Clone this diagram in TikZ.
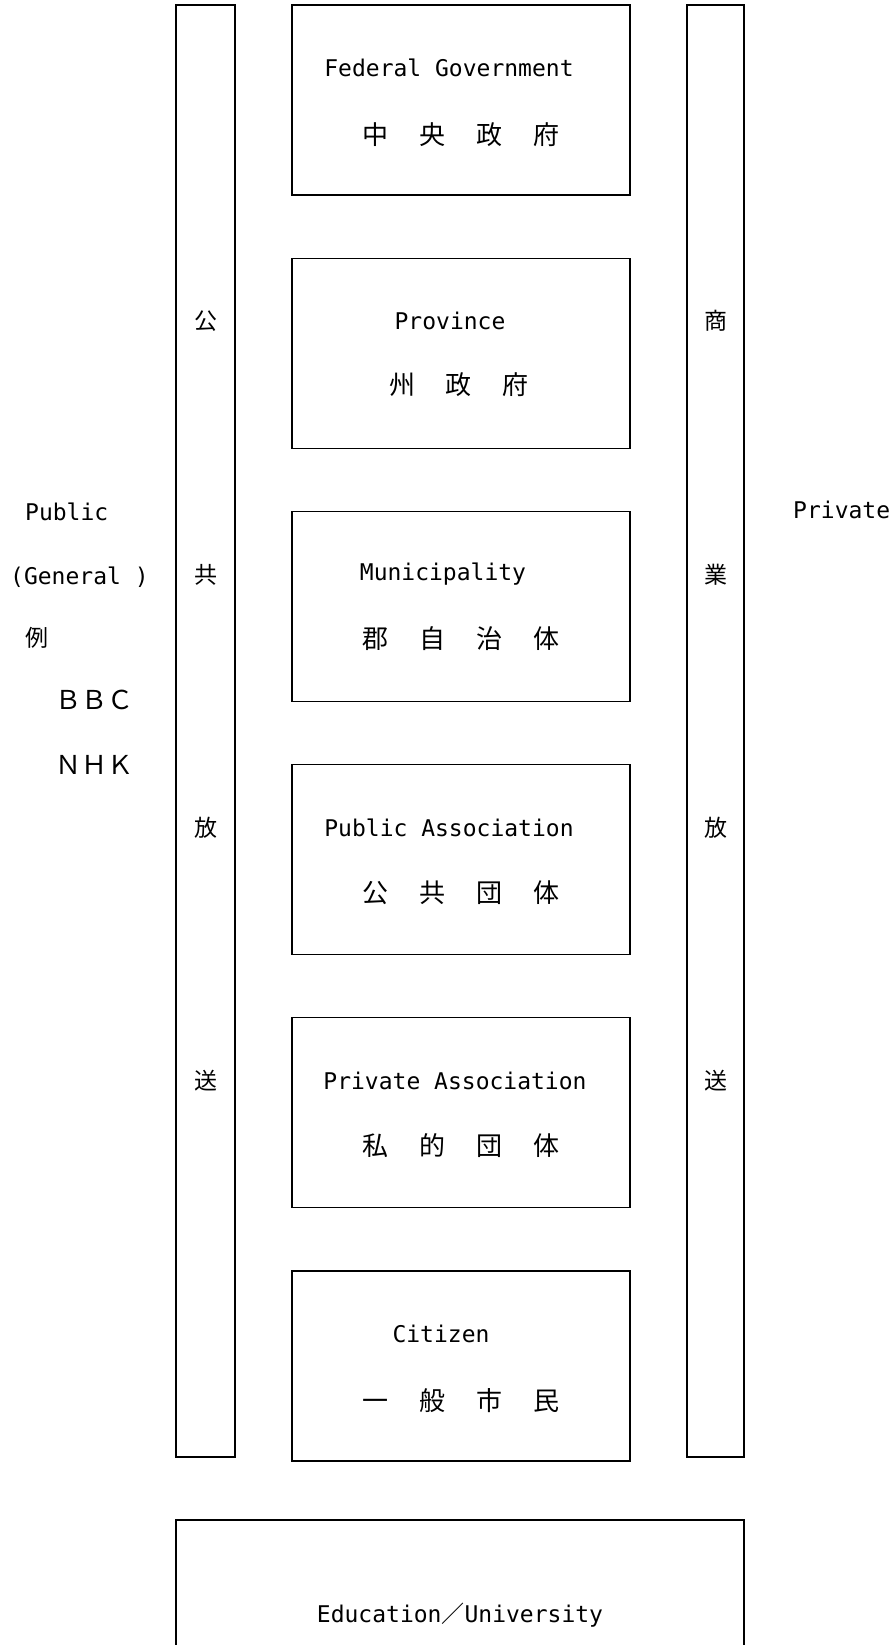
\documentclass[tikz,border=0pt]{standalone}
\usepackage{fontspec}
\setmainfont{DejaVu Sans Mono}
\newfontfamily\jp{Noto Sans CJK JP}
\newcommand\jpspread{\spaceskip 31pt\relax}
\usetikzlibrary{positioning}

\tikzset{
  govbox/.style={draw,line width=1.2pt,minimum width=338pt,minimum height=190pt,inner sep=0pt},
  sidebar/.style={draw,line width=1.2pt,minimum height=1452pt,inner sep=0pt},
  entext/.style={inner sep=0pt,font=\fontsize{23}{27}\selectfont},
  jptext/.style={inner sep=0pt,font=\jp\fontsize{26}{30}\selectfont\jpspread},
  barchar/.style={inner sep=0pt,font=\jp\fontsize{23}{27}\selectfont},
  sidetext/.style={inner sep=0pt,anchor=west,font=\fontsize{23}{27}\selectfont},
}

\begin{document}
\begin{tikzpicture}[x=1pt,y=-1pt,node distance=62pt]
  \useasboundingbox (0,0) rectangle (892,1645);

  % ladder of bodies
  \node[govbox] (fed) at (461,100) {};
  \node[govbox,below=of fed] (prov) {};
  \node[govbox,below=of prov] (muni) {};
  \node[govbox,below=of muni] (pubassoc) {};
  \node[govbox,below=of pubassoc] (privassoc) {};
  \node[govbox,below=of privassoc] (citizen) {};

  \node[entext] (fed-en) at ([xshift=-12pt,yshift=32pt]fed.center) {Federal Government};
  \node[jptext] (fed-jp) at ([yshift=-35pt]fed.center) {中 央 政 府};
  \node[entext] (prov-en) at ([xshift=-11pt,yshift=32pt]prov.center) {Province};
  \node[jptext] (prov-jp) at ([xshift=-2pt,yshift=-31pt]prov.center) {州 政 府};
  \node[entext] (muni-en) at ([xshift=-18pt,yshift=32pt]muni.center) {Municipality};
  \node[jptext] (muni-jp) at ([yshift=-32pt]muni.center) {郡 自 治 体};
  \node[entext] (pubassoc-en) at ([xshift=-12pt,yshift=32pt]pubassoc.center) {Public Association};
  \node[jptext] (pubassoc-jp) at ([yshift=-33pt]pubassoc.center) {公 共 団 体};
  \node[entext] (privassoc-en) at ([xshift=-6pt,yshift=32pt]privassoc.center) {Private Association};
  \node[jptext] (privassoc-jp) at ([yshift=-33pt]privassoc.center) {私 的 団 体};
  \node[entext] (citizen-en) at ([xshift=-20pt,yshift=32pt]citizen.center) {Citizen};
  \node[jptext] (citizen-jp) at ([yshift=-35pt]citizen.center) {一 般 市 民};

  % public / private broadcasting bars
  \node[sidebar,minimum width=59pt] (public) at (205.5,731) {};
  \node[sidebar,minimum width=57pt] (private) at (715.5,731) {};
  \node[barchar] at (public |- prov-en) {公};
  \node[barchar] at (public |- muni-en) {共};
  \node[barchar] at (public |- pubassoc-en) {放};
  \node[barchar] at (public |- privassoc-en) {送};
  \node[barchar] at (private |- prov-en) {商};
  \node[barchar] at (private |- muni-en) {業};
  \node[barchar] at (private |- pubassoc-en) {放};
  \node[barchar] at (private |- privassoc-en) {送};

  % side notes
  \node[sidetext] (pub-label) at (25,512) {Public};
  \node[sidetext] (general) at (10,577) {(General )};
  \node[sidetext,font=\jp\fontsize{23}{27}\selectfont] (example) at (25,638) {例};
  \node[sidetext,font=\jp\fontsize{26}{30}\selectfont] (bbc) at (55,700) {ＢＢＣ};
  \node[sidetext,font=\jp\fontsize{26}{30}\selectfont] (nhk) at (55,765) {ＮＨＫ};
  \node[sidetext] (priv-label) at (793,510) {Private};

  % education underneath
  \node[draw,line width=1.2pt,minimum width=568pt,minimum height=190pt,inner sep=0pt,font=\fontsize{23}{27}\selectfont] (edu) at (460,1615) {Education{\jp ／}University};
\end{tikzpicture}
\end{document}
